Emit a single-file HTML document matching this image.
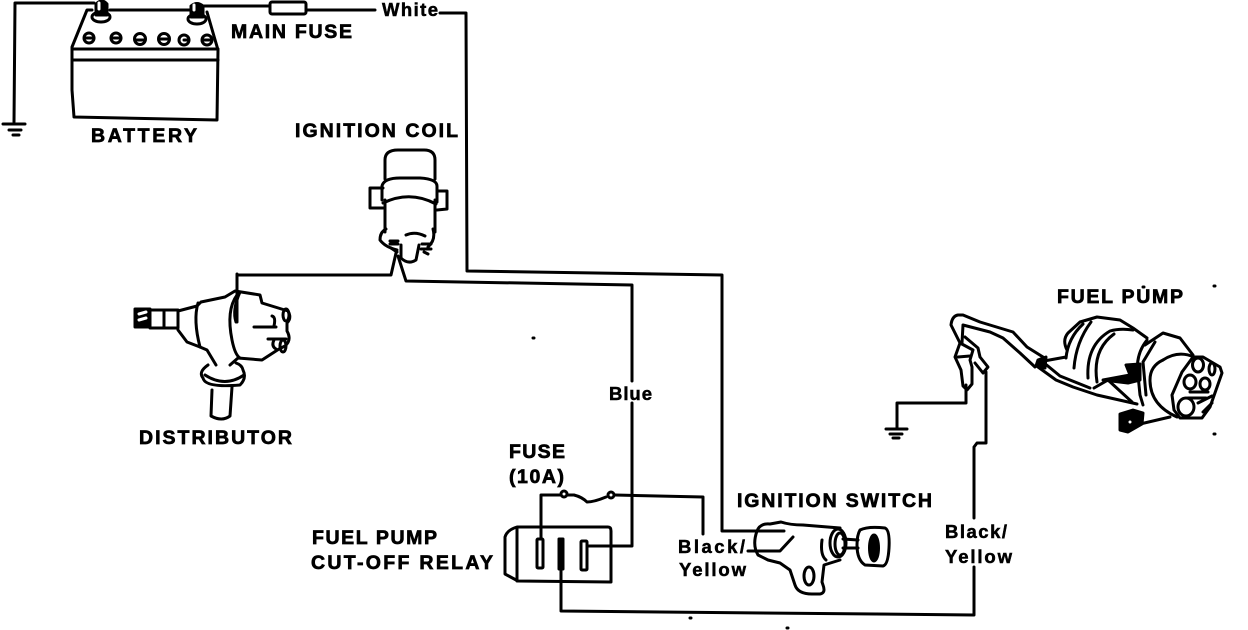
<!DOCTYPE html>
<html><head><meta charset="utf-8"><style>
html,body{margin:0;padding:0;background:#fff}
svg{display:block}
text{font-family:"Liberation Sans",sans-serif;font-weight:bold;fill:#000;stroke:#000;stroke-width:.7px}
.c{font-size:19.5px}
.w{font-size:18.5px;stroke-width:.5px}
path,rect,ellipse,circle{fill:none;stroke:#000;stroke-width:3;stroke-linecap:round;stroke-linejoin:round}
.f{fill:#000}
.wh{fill:#fff}
.t{stroke-width:2.4}
</style></head><body>
<svg width="1248" height="630" viewBox="0 0 1248 630" xmlns="http://www.w3.org/2000/svg">
<!-- ground 1 -->
<path d="M94 3H15L14 122" stroke-width="3.5"/>
<path d="M3 124H25M9 130H21M13 135H19"/>
<!-- top wires -->
<path d="M110 10H190"/>
<path d="M203 6H270M306 10H375M440 13H466L467 271L722 275V531H757" stroke-width="3.5"/>
<rect x="270" y="2" width="36" height="12" rx="2"/>
<!-- battery -->
<path d="M92 10H87L72 47V90L74 117L217 120L218 50L207 12" stroke-width="3.2"/>
<path d="M72 49H218M72 60H218" stroke-width="3"/>
<!-- posts -->
<path d="M96 4Q102 -2 107 4V14H96Z" class="f"/>
<ellipse cx="101" cy="17" rx="9" ry="5" class="wh" stroke-width="3.5"/>
<path d="M96 5H107V15H96Z" class="f"/>
<path d="M99 3V9" stroke="#fff" style="stroke:#fff" stroke-width="2"/>
<path d="M191 6Q197 1 203 6V17H191Z" class="f"/>
<ellipse cx="197" cy="19" rx="9" ry="5" class="wh" stroke-width="3.5"/>
<path d="M191 7H203V17H191Z" class="f"/>
<path d="M194 5V10" style="stroke:#fff" stroke-width="2"/>
<!-- caps -->
<g stroke-width="2.8"><circle cx="89" cy="38" r="5" stroke-width="3"/><circle cx="116" cy="38" r="5" stroke-width="3"/><circle cx="140" cy="39" r="5.5" stroke-width="3"/><circle cx="164" cy="39" r="5.5" stroke-width="3"/><circle cx="184" cy="40" r="5" stroke-width="3"/><circle cx="207" cy="40" r="5" stroke-width="3"/>
<path d="M85 38H94M111 38H121M135 40H145M159 39H169M184 40H189M203 40H211"/></g>
<!-- coil -->
<path d="M385 179V160Q385 150 398 150H424Q435 150 435 160V179" stroke-width="3.5"/>
<path d="M382 200V186Q384 178 400 178H420Q437 179 437 186V202" stroke-width="3.5"/>
<path d="M383 203Q410 190 436 204" stroke-width="4"/>
<path d="M385 200V232M435 200V232" stroke-width="3.5"/>
<path d="M383 188H370V208H383M437 191H447V209L437 210" stroke-width="3"/>
<path d="M386 229Q380 232 380 240Q385 247 397 250M433 229Q436 240 428 247" stroke-width="3.5"/>
<path d="M406 235Q415 231 425 236" stroke-width="2"/>
<path d="M401 245V258Q408 265 416 260L419 245" stroke-width="3"/>
<path d="M390 241H398M390 244H398M422 244H431M421 249H431M391 248L397 252M424 252L428 254" stroke-width="3"/>
<!-- coil wires -->
<path d="M238 275H391L396 253" stroke-width="3.5"/>
<path d="M398 256L406 281L632 285V381M632 403V546H586" stroke-width="3.5"/>
<!-- distributor -->
<path d="M237 274V322" stroke-width="3"/>
<rect x="135" y="309" width="15" height="18" class="f"/>
<path d="M139 314L146 312M139 320L146 318" style="stroke:#fff" stroke-width="1.5"/>
<path d="M150 310H178V328H150ZM164 310V328" stroke-width="3.5"/>
<path d="M178 311L197 306L201 302L225 297L235 291L260 295L262 303L288 311Q292 318 287 323L287 331Q292 340 285 346L279 349L262 360L238 358L230 365" stroke-width="3"/>
<path d="M178 330L187 342L200 347L207 350L216 365" stroke-width="3"/>
<path d="M198 303Q193 320 200 347" stroke-width="2.5"/>
<path d="M237 295Q226 310 232 340Q235 355 240 358" stroke-width="3.5"/>
<path d="M240 292Q232 310 236 322" stroke-width="3"/>
<path d="M254 327H276M272 316Q276 317 274 326M274 340Q271 346 276 349M268 339H286" stroke-width="2.5"/>
<ellipse cx="286" cy="315" rx="3" ry="6" stroke-width="3"/>
<ellipse cx="283" cy="346" rx="3" ry="6" stroke-width="3"/>
<path d="M208 365Q198 372 203 378Q205 388 240 385Q247 378 243 370Q242 365 236 363" stroke-width="3"/>
<path d="M205 375Q225 388 244 375" stroke-width="3"/>
<path d="M212 390L211 416Q222 422 230 416L232 387" stroke-width="3"/>
<!-- fuse -->
<path d="M541 538V495H560M568 495H574Q582 497 587 502Q594 502 606 497M615 495L703 497V534" stroke-width="3"/>
<circle cx="564" cy="494" r="3"/>
<circle cx="611" cy="495" r="3"/>
<!-- relay -->
<path d="M517 527H608Q611 527 611 531V582L518 581L505 574V537Q507 530 517 527Z" stroke-width="3.5"/>
<path d="M517 528V581" stroke-width="2.5"/>
<rect x="537" y="539" width="6" height="29" rx="1" class="wh"/>
<rect x="559" y="539" width="4" height="30" class="f"/>
<rect x="581" y="541" width="6" height="29" rx="1" class="wh"/>
<!-- bottom wire -->
<path d="M561 570V611L974 615V567M974 518V447L977 443H986V372" stroke-width="3.2"/>
<!-- ignition switch -->
<path d="M757 531Q760 523 770 524L781 522Q790 525 803 525L840 528" stroke-width="3.2"/>
<path d="M757 531Q752 545 758 555L768 560L780 563L790 570L795 585Q798 594 812 594H820Q826 593 823 585L822 582L824 565L840 560" stroke-width="3.2"/>
<path d="M757 531H784M748 551H780L793 537" stroke-width="3"/>
<ellipse cx="809" cy="576" rx="5" ry="9" stroke-width="3.5"/>
<path d="M822 540Q820 555 826 560" stroke-width="2.5"/>
<ellipse cx="838" cy="543" rx="8" ry="14" stroke-width="3"/>
<ellipse cx="840" cy="544" rx="5" ry="11" stroke-width="2.5"/>
<path d="M843 539L858 540M843 548H858" stroke-width="3"/>
<path d="M860 530Q868 526 885 528Q890 530 889 548Q888 565 883 566L865 565Q857 560 857 545Q857 535 860 530Z" stroke-width="3.5"/>
<ellipse cx="874" cy="548" rx="4.5" ry="13" class="f"/>
<!-- ground 2 -->
<path d="M966 385V403H897V428" stroke-width="2.5"/>
<path d="M886 429H907M890 434H902M893 438H899"/>
<!-- pump wires and connectors -->
<path d="M960 343L951 325Q952 316 958 315H963L980 322L1013 332L1027 347L1043 357" stroke-width="3.5"/>
<path d="M962 343L963 325L990 332L1003 338L1020 353L1035 367" stroke-width="3"/>
<path d="M960 343L955 357L961 370L963 386L967 390L972 384V367L970 360L973 350Z" stroke-width="3"/>
<path d="M965 337L978 348L980 357L988 367L983 373L975 363" stroke-width="3.5"/>
<path d="M958 357L970 356" stroke-width="3"/>
<path d="M1038 360L1046 357L1045 368L1036 366Z" class="f"/>
<path d="M1044 361L1066 357M1038 367L1056 380L1073 387L1097 395L1137 404" stroke-width="3.5"/>
<path d="M1043 362L1060 376L1090 388" stroke-width="2.5"/>
<!-- pump body -->
<path d="M1067 350Q1062 340 1068 333L1080 322L1097 317L1120 320L1133 328L1147 338" stroke-width="4"/>
<path d="M1066 358Q1068 338 1083 324" stroke-width="5"/>
<path d="M1074 368Q1076 342 1091 322" stroke-width="4"/>
<path d="M1088 378Q1086 345 1110 331Q1120 328 1133 330" stroke-width="4"/>
<path d="M1097 382Q1092 350 1114 334" stroke-width="3"/>
<path d="M1103 380L1130 375L1126 365L1140 364V380L1128 383Z" class="f" stroke-width="3"/>
<path d="M1094 388L1108 380L1132 402" stroke-width="3.5"/>
<path d="M1145 345L1163 333L1180 338L1193 355" stroke-width="3.5"/>
<path d="M1147 340Q1135 355 1138 375L1140 395L1143 405" stroke-width="4"/>
<path d="M1155 342L1143 362L1146 395" stroke-width="2.5"/>
<path d="M1163 360Q1150 366 1150 380Q1150 405 1177 417" stroke-width="3"/>
<path d="M1163 360Q1178 350 1194 357" stroke-width="3"/>
<path d="M1193 357H1203L1220 367L1222 373L1210 407L1202 418H1180L1174 410L1172 395L1182 372Z" stroke-width="3.5"/>
<ellipse cx="1198" cy="365" rx="5.5" ry="7" stroke-width="4.5"/>
<ellipse cx="1212" cy="369" rx="3" ry="6" stroke-width="3.5"/>
<ellipse cx="1186" cy="407" rx="8" ry="9" stroke-width="4.5"/>
<ellipse cx="1190" cy="382" rx="6" ry="7" stroke-width="4.5"/>
<ellipse cx="1205" cy="384" rx="5" ry="6" stroke-width="4.5"/>
<path d="M1190 392H1208M1188 398H1206M1198 403L1212 396M1203 412L1212 403" stroke-width="3.5"/>
<path d="M1120 414L1133 410L1143 413L1142 424L1128 432L1120 430Z" class="f"/>
<circle cx="1130" cy="422" r="3" class="wh" stroke-width="1.5"/>
<path d="M1140 424L1170 417" stroke-width="3.5"/>
<!-- specks -->
<path d="M533 338h1M1214 434h1M1214 286h1M787 628h1M690 618h1M1143 287h1" stroke-width="2"/>
<!-- labels -->
<text class="c" x="231" y="38" textLength="121">MAIN FUSE</text>
<text class="w" x="382" y="16" textLength="56">White</text>
<text class="c" x="91" y="142" textLength="106">BATTERY</text>
<text class="c" x="295" y="137" textLength="163">IGNITION COIL</text>
<text class="c" x="139" y="444" textLength="153">DISTRIBUTOR</text>
<text class="c" x="1057" y="303" textLength="126">FUEL PUMP</text>
<text class="w" x="609" y="400" textLength="43">Blue</text>
<text class="c" x="509" y="458" textLength="56">FUSE</text>
<text class="c" x="509" y="483" textLength="55">(10A)</text>
<text class="c" x="312" y="544" textLength="125">FUEL PUMP</text>
<text class="c" x="311" y="569" textLength="182">CUT-OFF RELAY</text>
<text class="w" x="678" y="553" textLength="67">Black/</text>
<text class="w" x="679" y="576" textLength="67">Yellow</text>
<text class="c" x="737" y="507" textLength="195">IGNITION SWITCH</text>
<text class="w" x="945" y="538" textLength="62">Black/</text>
<text class="w" x="945" y="563" textLength="67">Yellow</text>
</svg>
</body></html>
